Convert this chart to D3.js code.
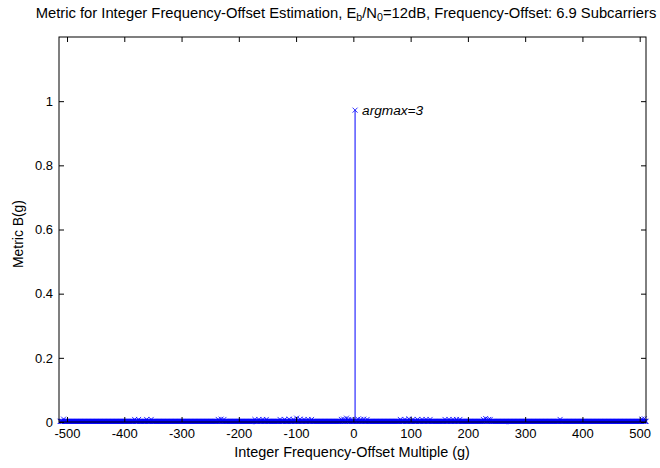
<!DOCTYPE html>
<html><head><meta charset="utf-8">
<script src="https://cdn.jsdelivr.net/npm/d3@7"></script>
<style>
body{margin:0;background:#fff;}
text{font-family:"Liberation Sans",Arial,sans-serif;}
</style></head>
<body><svg id="c" width="660" height="468"></svg>
<script>
// ---- data ----
const gMin = -512, gMax = 511;
const peakG = 3, peakValue = 0.972;
const baselineValue = 0.002;
// small side-lobe bumps: [g, value]
const bumps = [
  [-506,0.009],[-382,0.008],[-375,0.008],[-361,0.008],[-353,0.008],
  [-236,0.008],[-231,0.009],[-226,0.008],
  [-172,0.008],[-165,0.008],[-158,0.008],[-152,0.008],
  [-128,0.008],[-120,0.008],[-112,0.009],[-105,0.008],[-99,0.012],[-93,0.009],[-86,0.008],[-79,0.008],[-73,0.008],
  [-21,0.008],[-17,0.009],[-12,0.012],[-8,0.008],[-4,0.008],
  [8,0.009],[13,0.008],[18,0.009],[24,0.008],
  [82,0.008],[90,0.008],[97,0.01],[104,0.008],[112,0.008],[120,0.008],[127,0.008],[134,0.008],
  [160,0.008],[167,0.008],[174,0.008],[180,0.008],[186,0.008],
  [227,0.008],[231,0.011],[236,0.008],[239,0.008],
  [361,0.008],[504,0.009],[508,0.01]
];
const xTicks = [-500,-400,-300,-200,-100,0,100,200,300,400,500];
const yTicks = [0,0.2,0.4,0.6,0.8,1];
const titleText = "Metric for Integer Frequency-Offset Estimation, ";
const xLabel = "Integer Frequency-Offset Multiple (g)";
const yLabel = "Metric B(g)";
const annot = "argmax=3";

const bumpMap = new Map(bumps);
const gValues = d3.range(gMin, gMax + 1);
const data = gValues.map(g => ({g, v: g === peakG ? peakValue : (bumpMap.has(g) ? bumpMap.get(g) : baselineValue)}));

// ---- layout ----
const L = 59, R = 646, T = 37, B = 422;
const svg = d3.select("#c");
const x = d3.scaleLinear().domain([-514, 511]).range([L, R]);
const y = d3.scaleLinear().domain([0, 1.2]).range([B, T]);
const blue = "#0000ff";

function fit(sel, target){
  const w = sel.node().getBBox().width;
  const f = parseFloat(sel.attr("font-size"));
  sel.attr("font-size", f * target / w);
  sel.selectAll("tspan").each(function(){
    const s = d3.select(this); const ff = s.attr("font-size");
    if (ff) s.attr("font-size", parseFloat(ff) * target / w);
  });
}

svg.append("rect").attr("x", L).attr("y", T).attr("width", R - L).attr("height", B - T).attr("fill", "#fff");

// stems
const g = svg.append("g");
g.selectAll("line.stem").data(data).join("line").attr("class","stem")
  .attr("x1", d => x(d.g)).attr("x2", d => x(d.g))
  .attr("y1", y(0)).attr("y2", d => y(d.v))
  .attr("stroke", blue).attr("stroke-width", 1);
// markers
const ms = 2.5;
g.selectAll("path.mk").data(data).join("path").attr("class","mk")
  .attr("d", d => { const cx = x(d.g), cy = y(d.v); return `M${cx-ms},${cy-ms}L${cx+ms},${cy+ms}M${cx-ms},${cy+ms}L${cx+ms},${cy-ms}`; })
  .attr("stroke", blue).attr("stroke-width", 0.8).attr("fill", "none");

// axes
const fs = 13;
const xAxisB = d3.axisBottom(x).tickValues(xTicks).tickSizeInner(-5).tickSizeOuter(0).tickPadding(7).tickFormat(d => String(d));
const xAxisT = d3.axisTop(x).tickValues(xTicks).tickSizeInner(-5).tickSizeOuter(0).tickFormat("");
const yAxisL = d3.axisLeft(y).tickValues(yTicks).tickSizeInner(-5).tickSizeOuter(0).tickPadding(6).tickFormat(d => String(d));
const yAxisR = d3.axisRight(y).tickValues(yTicks).tickSizeInner(-5).tickSizeOuter(0).tickFormat("");
function style(sel){
  sel.select(".domain").remove();
  sel.selectAll("line").attr("stroke","#000");
  sel.selectAll("text").attr("font-size", fs).attr("fill","#000").attr("font-family","Liberation Sans, Arial, sans-serif");
}
svg.append("g").attr("transform", `translate(0,${B})`).call(xAxisB).call(style);
svg.append("g").attr("transform", `translate(0,${T})`).call(xAxisT).call(style);
svg.append("g").attr("transform", `translate(${L},0)`).call(yAxisL).call(style);
svg.append("g").attr("transform", `translate(${R},0)`).call(yAxisR).call(style);
svg.append("rect").attr("x", L).attr("y", T).attr("width", R - L).attr("height", B - T)
  .attr("fill", "none").attr("stroke", "#000").attr("stroke-width", 1);

// annotation
const a = svg.append("text").attr("x", x(peakG) + 7).attr("y", y(peakValue) + 5)
  .attr("font-size", 13).attr("font-style","italic").attr("fill","#000").text(annot);
fit(a, 62);

// title
const t = svg.append("text").attr("x", 346).attr("y", 18).attr("text-anchor","middle").attr("font-size", 12.5).attr("fill","#000");
t.append("tspan").text(titleText + "E");
t.append("tspan").attr("dy", 3).attr("font-size", 9).text("b");
t.append("tspan").attr("dy", -3).text("/N");
t.append("tspan").attr("dy", 3).attr("font-size", 9).text("0");
t.append("tspan").attr("dy", -3).text("=12dB, Frequency-Offset: 6.9 Subcarriers");
fit(t, 621);

const xl = svg.append("text").attr("x", 352).attr("y", 457).attr("text-anchor","middle").attr("font-size", 12).attr("fill","#000").text(xLabel);
fit(xl, 236);
const yl = svg.append("text").attr("transform", `translate(23,${234}) rotate(-90)`).attr("text-anchor","middle").attr("font-size", 12).attr("fill","#000").text(yLabel);
fit(yl, 68);
</script></body></html>
